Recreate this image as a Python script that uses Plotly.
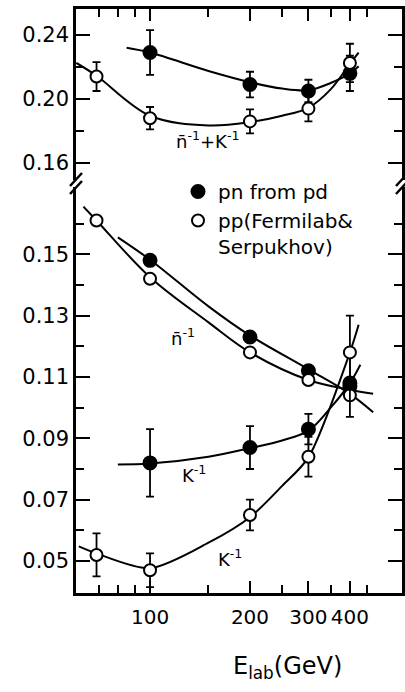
import plotly.graph_objects as go

# ---------------- data ----------------
E_pn = [100, 200, 300, 400]
E_pp = [69, 100, 200, 300, 400]

# top panel: n^-1 + K^-1
sum_pn = [0.229, 0.209, 0.205, 0.216]
sum_pn_err = [0.014, 0.008, 0.007, 0.011]
sum_pp = [0.214, 0.188, 0.186, 0.194, 0.2225]
sum_pp_err = [0.009, 0.007, 0.0075, 0.008, 0.012]

# bottom panel: n^-1
ninv_pn = [0.148, 0.123, 0.112, 0.107]
ninv_pp = [0.161, 0.142, 0.118, 0.109, 0.104]

# bottom panel: K^-1
kinv_pn = [0.082, 0.087, 0.093, 0.108]
kinv_pn_err = [0.011, 0.007, 0.005, 0.011]
kinv_pp = [0.052, 0.047, 0.065, 0.084, 0.118]
kinv_pp_err = [0.007, 0.0055, 0.005, 0.0065, 0.012]

# hand-drawn fit curves
top_pn_curve_E = [85, 100, 150, 200, 250, 300, 350, 400, 425]
top_pn_curve = [0.2320, 0.2290, 0.2175, 0.2105, 0.2065, 0.2055, 0.2100, 0.2160, 0.2205]
top_pp_curve_E = [60, 69, 100, 150, 200, 250, 300, 350, 400, 425]
top_pp_curve = [0.2225, 0.2145, 0.1895, 0.1835, 0.1855, 0.1895, 0.1945, 0.2060, 0.2220, 0.2290]

n_pn_curve_E = [80, 100, 150, 200, 300, 400, 470]
n_pn_curve = [0.1555, 0.1482, 0.1330, 0.1235, 0.1125, 0.1045, 0.0985]
n_pp_curve_E = [63, 69, 100, 150, 200, 300, 400, 470]
n_pp_curve = [0.1655, 0.1610, 0.1425, 0.1278, 0.1180, 0.1090, 0.1058, 0.1045]

k_pn_curve_E = [80, 100, 150, 200, 250, 300, 350, 400, 430]
k_pn_curve = [0.0815, 0.0818, 0.0840, 0.0868, 0.0893, 0.0925, 0.1000, 0.1080, 0.1140]
k_pp_curve_E = [61, 69, 100, 150, 200, 250, 300, 400, 425]
k_pp_curve = [0.0548, 0.0525, 0.0477, 0.0560, 0.0643, 0.0745, 0.0838, 0.1180, 0.1270]

x_major = [100, 200, 300, 400]
x_minor = [70, 80, 90, 150, 250, 350, 450]
x_labels = ["100", "200", "300", "400"]
top_major = [0.16, 0.20, 0.24]
top_minor = [0.18, 0.22]
top_labels = ["0.16", "0.20", "0.24"]
bot_major = [0.05, 0.07, 0.09, 0.11, 0.13, 0.15]
bot_minor = [0.06, 0.08, 0.10, 0.12, 0.14, 0.16]
bot_labels = ["0.05", "0.07", "0.09", "0.11", "0.13", "0.15"]

# ---------------- layout geometry ----------------
W, H = 405, 692
ML, MR, MT, MB = 76, 3, 9, 99
PW, PH = W - ML - MR, H - MT - MB


def px(x):
    return (x - ML) / PW


def py(y):
    return (H - MB - y) / PH


FONT = "DejaVu Sans"
BLACK = "black"

fig = go.Figure()


def curve(xs, ys, xa, ya, smoothing=1.0):
    fig.add_trace(go.Scatter(x=xs, y=ys, mode="lines",
                             line=dict(color=BLACK, width=2, shape="spline", smoothing=smoothing),
                             xaxis=xa, yaxis=ya, showlegend=False, hoverinfo="skip"))


def pts(xs, ys, err, filled, xa, ya, name=None, legend=False):
    marker = dict(symbol="circle", size=13 if filled else 12,
                  color=BLACK if filled else "white",
                  line=dict(color=BLACK, width=2))
    ey = dict(type="data", array=err, visible=True, color=BLACK, thickness=1.8, width=4) if err else None
    fig.add_trace(go.Scatter(x=xs, y=ys, mode="markers", marker=marker, error_y=ey,
                             xaxis=xa, yaxis=ya, name=name, showlegend=legend))


# top panel
curve(top_pn_curve_E, top_pn_curve, "x", "y")
curve(top_pp_curve_E, top_pp_curve, "x", "y")
pts(E_pn, sum_pn, sum_pn_err, True, "x", "y")
pts(E_pp, sum_pp, sum_pp_err, False, "x", "y")

# bottom panel
curve(n_pn_curve_E, n_pn_curve, "x2", "y2")
curve(n_pp_curve_E, n_pp_curve, "x2", "y2")
curve(k_pn_curve_E, k_pn_curve, "x2", "y2")
curve(k_pp_curve_E, k_pp_curve, "x2", "y2", smoothing=0.8)
pts(E_pn, ninv_pn, None, True, "x2", "y2", "pn from pd", True)
pts(E_pp, ninv_pp, None, False, "x2", "y2", "pp(Fermilab&<br>Serpukhov)", True)
pts(E_pn, kinv_pn, kinv_pn_err, True, "x2", "y2")
pts(E_pp, kinv_pp, kinv_pp_err, False, "x2", "y2")

xr = [1.777, 2.759]
common_x = dict(type="log", range=xr, showline=True, linecolor=BLACK, linewidth=2.5,
                ticks="inside", tickvals=x_major, ticklen=12, tickwidth=2, tickcolor=BLACK,
                minor=dict(tickvals=x_minor, ticks="inside", ticklen=8, tickwidth=2, tickcolor=BLACK),
                showgrid=False, zeroline=False, automargin=False)
common_y = dict(showline=True, linecolor=BLACK, linewidth=2.5, mirror="ticks",
                ticks="inside", ticklen=14, tickwidth=2, tickcolor=BLACK,
                showgrid=False, zeroline=False, automargin=False,
                tickfont=dict(family=FONT, size=21, color=BLACK))

y_split_top = py(180)
y_split_bot = py(187)

fig.update_layout(
    width=W, height=H,
    margin=dict(l=ML, r=MR, t=MT, b=MB, autoexpand=False),
    paper_bgcolor="white", plot_bgcolor="white",
    xaxis=dict(common_x, domain=[0, 1], anchor="y", side="top", showticklabels=False),
    yaxis=dict(common_y, domain=[y_split_top, 1], anchor="x", range=[0.1494, 0.2562],
               tickvals=top_major, ticktext=top_labels,
               minor=dict(tickvals=top_minor, ticks="inside", ticklen=8, tickwidth=2, tickcolor=BLACK)),
    xaxis2=dict(common_x, domain=[0, 1], anchor="y2", side="bottom", tickvals=x_major, ticktext=x_labels,
                tickangle=0, tickfont=dict(family=FONT, size=20, color=BLACK), ticklabelstandoff=4),
    yaxis2=dict(common_y, domain=[0, y_split_bot], anchor="x2", range=[0.0396, 0.1719],
                tickvals=bot_major, ticktext=bot_labels,
                minor=dict(tickvals=bot_minor, ticks="inside", ticklen=8, tickwidth=2, tickcolor=BLACK)),
    showlegend=True,
    legend=dict(x=px(178), y=py(172), xanchor="left", yanchor="top", bgcolor="rgba(0,0,0,0)",
                font=dict(family=FONT, size=20, color=BLACK), valign="top", tracegroupgap=0,
                itemsizing="trace"),
    font=dict(family=FONT, color=BLACK),
)

# axis break marks "//"
shapes = []
for ax in (ML, ML + PW):
    for y0 in (186, 194):
        shapes.append(dict(type="line", xref="paper", yref="paper",
                           x0=px(ax - 6), y0=py(y0), x1=px(ax + 6), y1=py(y0 - 13),
                           line=dict(color=BLACK, width=2.5)))
fig.update_layout(shapes=shapes)

ann = [
    ("n\u0304<sup>-1</sup>+K<sup>-1</sup>", 207, 140, 18),
    ("n\u0304<sup>-1</sup>", 183, 337, 18),
    ("K<sup>-1</sup>", 194, 474, 18),
    ("K<sup>-1</sup>", 230, 558, 18),
    ("E<sub>lab</sub>(GeV)", 287, 667, 24),
]
for text, x, y, s in ann:
    fig.add_annotation(text=text, x=px(x), y=py(y), xref="paper", yref="paper", showarrow=False,
                       xanchor="center", yanchor="middle", font=dict(family=FONT, size=s, color=BLACK))

fig.write_html("out.html", config={"displayModeBar": False},
               post_script="document.body.style.margin='0';document.body.style.overflow='hidden';")
